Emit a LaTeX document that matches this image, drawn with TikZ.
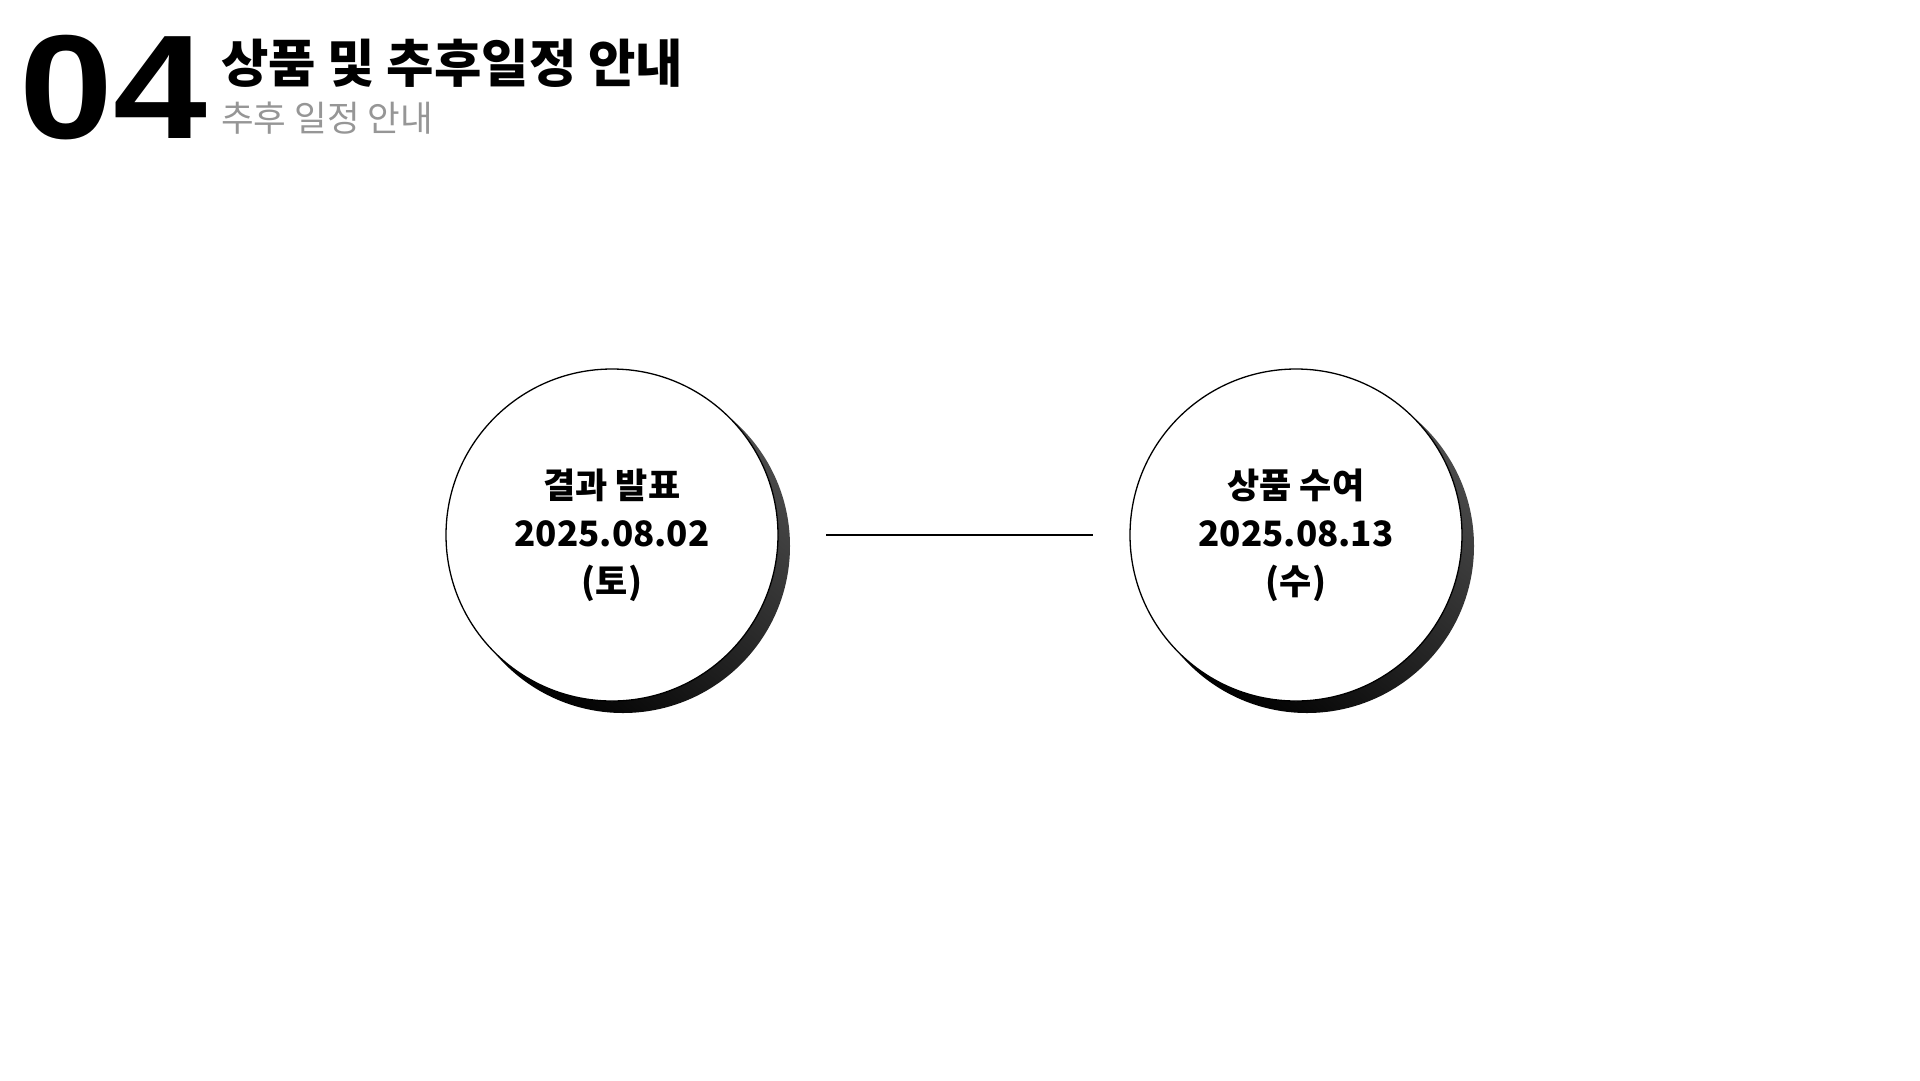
\documentclass[tikz,border=0pt]{standalone}
\usepackage{fontspec}
\setmainfont{Noto Sans CJK KR}
\newfontfamily\numfont{Liberation Sans}
\definecolor{subgray}{HTML}{969696}
\tikzset{stage/.style={circle, draw=black, line width=1.3pt, fill=white,
minimum size=332pt, inner sep=0pt, outer sep=0pt, align=center,
font=\bfseries\fontsize{35}{48}\selectfont},
stageshadow/.style={circle, minimum size=334pt, inner sep=0pt,
top color=black!70, bottom color=black, shading angle=-40}}

\begin{document}
\begin{tikzpicture}[x=1pt,y=-1pt]
				\useasboundingbox (0,0) rectangle (1920,1080);
				\node[anchor=base west, inner sep=0pt, xscale=1.14, font=\numfont\bfseries\fontsize{148}{148}\selectfont] (num) at (19,138) {04};
				\node[anchor=west, inner sep=0pt, font=\bfseries\fontsize{51.5}{51.5}\selectfont] (title) at (221,63) {상품 및 추후일정 안내};
				\node[anchor=west, inner sep=0pt, text=subgray, font=\fontsize{35.5}{35.5}\selectfont] (subtitle) at (221,118) {추후 일정 안내};
				\node[stageshadow] (announceshadow) at (623,546) {};
				\node[stageshadow] (awardshadow) at (1307,546) {};
				\node[stage] (announce) at (612,535) {결과 발표\\2025.08.02\\(토)};
				\node[stage] (award) at (1296,535) {상품 수여\\2025.08.13\\(수)};
				\draw[line width=2pt, shorten <=48pt, shorten >=37pt] (announce.east) -- (award.west);
			\end{tikzpicture}
\end{document}
